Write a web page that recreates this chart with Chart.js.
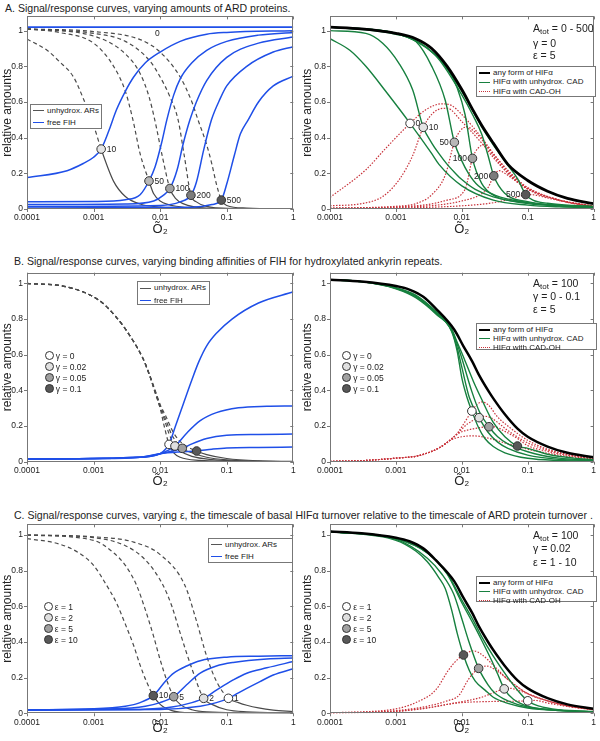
<!DOCTYPE html>
<html>
<head>
<meta charset="utf-8">
<script src="https://cdn.jsdelivr.net/npm/chart.js@4.4.0/dist/chart.umd.min.js"></script>
<style>
  body { margin: 0; background: #fff; font-family: "Liberation Sans", Arial, sans-serif; color: #222; }
  #page { position: relative; width: 600px; height: 741px; overflow: hidden; }
  canvas { position: absolute; }
  .title { position: absolute; font-size: 10.55px; line-height: 12px; white-space: nowrap; }
  .note { position: absolute; font-size: 10.5px; line-height: 12px; white-space: nowrap; }
  .note sub { font-size: 8px; vertical-align: -2px; line-height: 0; }
  .legend { position: absolute; border: 1px solid #777; background: #fff; box-sizing: border-box; }
  .legend .row { position: absolute; left: 2px; font-size: 8px; line-height: 10px; white-space: nowrap; transform: translateY(-50%); }
  .legend .ln { display: inline-block; width: 11px; margin-right: 3px; vertical-align: middle; }
  .mk { position: absolute; font-size: 8.5px; line-height: 10px; white-space: nowrap; transform: translateY(-50%); }
  .mk i { display: inline-block; width: 7px; height: 7px; border: 1px solid #333; border-radius: 50%; margin-right: 2px; vertical-align: -1px; }
  .lbl { position: absolute; font-size: 8.5px; line-height: 10px; transform: translateY(-50%); }
</style>
</head>
<body>
<div id="page">
  <div class="title" style="left:5px;top:1.5px">A. Signal/response curves, varying amounts of ARD proteins.</div>
  <div class="title" style="left:14px;top:254.7px">B. Signal/response curves, varying binding affinities of FIH for hydroxylated ankyrin repeats.</div>
  <div class="title" style="left:14px;top:509px">C. Signal/response curves, varying &epsilon;, the timescale of basal HIF&alpha; turnover relative to the timescale of ARD protein turnover .</div>

  <canvas id="aLeft" width="300" height="240" style="left:0;top:0"></canvas>
  <canvas id="aRight" width="300" height="240" style="left:300px;top:0"></canvas>
  <canvas id="bLeft" width="300" height="242" style="left:0;top:250px"></canvas>
  <canvas id="bRight" width="300" height="242" style="left:300px;top:250px"></canvas>
  <canvas id="cLeft" width="300" height="241" style="left:0;top:500px"></canvas>
  <canvas id="cRight" width="300" height="241" style="left:300px;top:500px"></canvas>

  <!-- legends -->
  <div class="legend" style="left:30px;top:104px;width:72px;height:25px">
    <div class="row" style="top:6px"><span class="ln" style="border-top:1.3px solid #555"></span>unhydrox. ARs</div>
    <div class="row" style="top:18px"><span class="ln" style="border-top:1.5px solid #1f4fe8"></span>free FIH</div>
  </div>
  <div class="legend" style="left:476px;top:66px;width:120px;height:31px">
    <div class="row" style="top:5.7px"><span class="ln" style="border-top:2.5px solid #000"></span>any form of HIF&alpha;</div>
    <div class="row" style="top:15.3px"><span class="ln" style="border-top:1.5px solid #17803f"></span>HIF&alpha; with unhydrox. CAD</div>
    <div class="row" style="top:24.7px"><span class="ln" style="border-top:1.5px dotted #c8323a"></span>HIF&alpha; with CAD-OH</div>
  </div>
  <div class="legend" style="left:137px;top:281px;width:73px;height:24px">
    <div class="row" style="top:6.3px"><span class="ln" style="border-top:1.3px solid #555"></span>unhydrox. ARs</div>
    <div class="row" style="top:18.5px"><span class="ln" style="border-top:1.5px solid #1f4fe8"></span>free FIH</div>
  </div>
  <div class="legend" style="left:476px;top:323px;width:121px;height:27px">
    <div class="row" style="top:5.7px"><span class="ln" style="border-top:2.5px solid #000"></span>any form of HIF&alpha;</div>
    <div class="row" style="top:15px"><span class="ln" style="border-top:1.5px solid #17803f"></span>HIF&alpha; with unhydrox. CAD</div>
    <div class="row" style="top:23.7px"><span class="ln" style="border-top:1.5px dotted #c8323a"></span>HIF&alpha; with CAD-OH</div>
  </div>
  <div class="legend" style="left:208px;top:538px;width:85px;height:25px">
    <div class="row" style="top:5.8px"><span class="ln" style="border-top:1.3px solid #555"></span>unhydrox. ARs</div>
    <div class="row" style="top:18px"><span class="ln" style="border-top:1.5px solid #1f4fe8"></span>free FIH</div>
  </div>
  <div class="legend" style="left:476px;top:576px;width:121px;height:26px">
    <div class="row" style="top:5.7px"><span class="ln" style="border-top:2.5px solid #000"></span>any form of HIF&alpha;</div>
    <div class="row" style="top:15px"><span class="ln" style="border-top:1.5px solid #17803f"></span>HIF&alpha; with unhydrox. CAD</div>
    <div class="row" style="top:23.5px"><span class="ln" style="border-top:1.5px dotted #c8323a"></span>HIF&alpha; with CAD-OH</div>
  </div>

  <!-- parameter notes -->
  <div class="note" style="left:533px;top:22px">A<sub>tot</sub> = 0 - 500</div>
  <div class="note" style="left:533px;top:36.5px">&gamma; = 0</div>
  <div class="note" style="left:533px;top:49px">&epsilon; = 5</div>
  <div class="note" style="left:533px;top:276.5px">A<sub>tot</sub> = 100</div>
  <div class="note" style="left:533px;top:290px">&gamma; = 0 - 0.1</div>
  <div class="note" style="left:533px;top:303.3px">&epsilon; = 5</div>
  <div class="note" style="left:533px;top:529px">A<sub>tot</sub> = 100</div>
  <div class="note" style="left:533px;top:542.3px">&gamma; = 0.02</div>
  <div class="note" style="left:533px;top:555.7px">&epsilon; = 1 - 10</div>

  <div class="lbl" style="left:155px;top:32.5px">0</div>

  <div id="markLegends"></div>
</div>

<script>
// ---- axes ----
const xTicks = [0.0001, 0.001, 0.01, 0.1, 1];
const xTickLabels = ['0.0001', '0.001', '0.01', '0.1', '1'];
const yTicks = [0, 0.2, 0.4, 0.6, 0.8, 1];
const yTickLabels = ['0', '0.2', '0.4', '0.6', '0.8', '1'];

// ---- A, left: free FIH (blue) and unhydroxylated ARs (grey), Atot = 0..500 ----
const aFih0 = [[1e-4, 1.02], [1, 1.02]];
const aFih10 = [[1e-4, 0.176], [4e-4, 0.215], [7e-4, 0.255], [1e-3, 0.29], [0.0013, 0.336], [0.0017, 0.44], [0.0022, 0.555], [0.003, 0.66], [0.004, 0.74], [0.006, 0.82], [0.01, 0.88], [0.02, 0.94], [0.05, 0.98], [0.1, 0.99], [1, 1.0]];
const aFih50 = [[1e-4, 0.04], [1e-3, 0.042], [0.003, 0.052], [0.005, 0.08], [0.0068, 0.157], [0.0084, 0.237], [0.0105, 0.37], [0.0126, 0.5], [0.016, 0.64], [0.02, 0.73], [0.03, 0.82], [0.05, 0.89], [0.1, 0.94], [0.3, 0.975], [1, 0.99]];
const aFih100 = [[1e-4, 0.025], [0.003, 0.028], [0.008, 0.045], [0.011, 0.075], [0.014, 0.115], [0.018, 0.22], [0.022, 0.36], [0.028, 0.5], [0.035, 0.6], [0.05, 0.72], [0.1, 0.85], [0.3, 0.93], [1, 0.965]];
const aFih200 = [[1e-4, 0.014], [0.01, 0.02], [0.02, 0.04], [0.029, 0.077], [0.035, 0.15], [0.045, 0.33], [0.059, 0.5], [0.08, 0.62], [0.1, 0.69], [0.2, 0.8], [0.5, 0.88], [1, 0.91]];
const aFih500 = [[1e-4, 0.006], [0.03, 0.01], [0.06, 0.025], [0.083, 0.05], [0.1, 0.14], [0.13, 0.3], [0.16, 0.42], [0.21, 0.5], [0.3, 0.6], [0.5, 0.69], [1, 0.745]];

const aArd10 = [[1e-4, 0.953], [2e-4, 0.89], [3e-4, 0.83], [5e-4, 0.74], [7e-4, 0.62], [1e-3, 0.47], [0.0013, 0.336], [0.002, 0.155], [0.003, 0.07], [0.005, 0.028], [0.01, 0.01], [0.03, 0.003], [1, 0]];
const aArd50 = [[1e-4, 1.01], [3e-4, 0.99], [1e-3, 0.93], [0.002, 0.8], [0.003, 0.66], [0.0039, 0.5], [0.005, 0.31], [0.0068, 0.157], [0.008, 0.085], [0.01, 0.045], [0.02, 0.012], [0.05, 0.002], [1, 0]];
const aArd100 = [[1e-4, 1.01], [1e-3, 0.97], [0.003, 0.87], [0.005, 0.76], [0.0068, 0.63], [0.0083, 0.5], [0.011, 0.28], [0.014, 0.115], [0.017, 0.06], [0.022, 0.03], [0.05, 0.005], [1, 0]];
const aArd200 = [[1e-4, 1.01], [1e-3, 0.985], [0.003, 0.94], [0.007, 0.83], [0.01, 0.74], [0.014, 0.63], [0.0186, 0.5], [0.023, 0.3], [0.029, 0.077], [0.035, 0.04], [0.05, 0.015], [0.1, 0.003], [1, 0]];
const aArd500 = [[1e-4, 1.01], [1e-3, 0.995], [0.005, 0.95], [0.01, 0.88], [0.02, 0.74], [0.03, 0.6], [0.037, 0.5], [0.05, 0.36], [0.06, 0.25], [0.07, 0.14], [0.083, 0.05], [0.1, 0.02], [0.2, 0.005], [1, 0]];

const aMarkX = [0.0013, 0.0068, 0.014, 0.029, 0.083];
const aMarkY = [0.336, 0.157, 0.115, 0.077, 0.05];
const aMarkText = ['10', '50', '100', '200', '500'];

// ---- A, right: HIFa forms ----
const aTotal = [[1e-4, 1.02], [3e-4, 1.01], [1e-3, 0.985], [0.002, 0.955], [0.0035, 0.9], [0.006, 0.8], [0.01, 0.67], [0.015, 0.55], [0.02, 0.47], [0.03, 0.37], [0.05, 0.25], [0.1, 0.16], [0.2, 0.1], [0.4, 0.06], [1, 0.03]];
const aCad0 = [[1e-4, 0.955], [2e-4, 0.89], [3.5e-4, 0.8], [7e-4, 0.66], [0.00164, 0.48], [0.0035, 0.31], [0.0045, 0.25], [0.01, 0.13], [0.03, 0.05], [0.1, 0.022], [0.3, 0.012], [1, 0.008]];
const aCad10 = [[1e-4, 1.0], [3.5e-4, 0.985], [6.3e-4, 0.93], [0.0011, 0.82], [0.0018, 0.667], [0.0026, 0.458], [0.0035, 0.37], [0.0045, 0.31], [0.006, 0.25], [0.008, 0.2], [0.01, 0.165], [0.016, 0.11], [0.03, 0.068], [0.1, 0.03], [0.3, 0.016], [1, 0.011]];
const aCad50 = [[1e-4, 1.02], [1e-3, 0.98], [0.002, 0.94], [0.0035, 0.8], [0.0056, 0.61], [0.0077, 0.374], [0.01, 0.27], [0.0126, 0.2], [0.0178, 0.13], [0.0316, 0.078], [0.1, 0.036], [0.3, 0.02], [1, 0.013]];
const aCad100 = [[1e-4, 1.02], [1e-3, 0.985], [0.003, 0.9], [0.0063, 0.78], [0.0085, 0.68], [0.0112, 0.53], [0.0145, 0.284], [0.02, 0.144], [0.0316, 0.073], [0.1, 0.036], [0.3, 0.02], [1, 0.013]];
const aCad200 = [[1e-4, 1.02], [1e-3, 0.985], [0.004, 0.86], [0.01, 0.64], [0.015, 0.52], [0.02, 0.42], [0.025, 0.3], [0.0305, 0.186], [0.0447, 0.088], [0.1, 0.041], [0.3, 0.02], [1, 0.013]];
const aCad500 = [[1e-4, 1.02], [1e-3, 0.985], [0.004, 0.865], [0.01, 0.66], [0.02, 0.46], [0.03, 0.36], [0.05, 0.245], [0.07, 0.17], [0.093, 0.081], [0.12, 0.05], [0.2, 0.032], [0.5, 0.02], [1, 0.015]];
const aOh0 = [[1e-4, 0.065], [3.5e-4, 0.22], [7e-4, 0.34], [0.00164, 0.48], [0.0028, 0.555], [0.005, 0.59], [0.007, 0.58], [0.01, 0.53], [0.02, 0.4], [0.035, 0.28], [0.07, 0.165], [0.1, 0.12], [0.3, 0.05], [1, 0.017]];
const aOh10 = [[1e-4, 0.018], [3e-4, 0.03], [6.3e-4, 0.07], [0.0011, 0.16], [0.0018, 0.3], [0.0026, 0.458], [0.004, 0.55], [0.006, 0.565], [0.01, 0.49], [0.02, 0.37], [0.035, 0.26], [0.07, 0.155], [0.1, 0.113], [0.3, 0.05], [1, 0.015]];
const aOh50 = [[1e-4, 0.005], [1e-3, 0.015], [0.002, 0.03], [0.0035, 0.08], [0.0056, 0.19], [0.0077, 0.374], [0.0095, 0.44], [0.012, 0.46], [0.016, 0.43], [0.02, 0.39], [0.03, 0.3], [0.05, 0.2], [0.1, 0.11], [0.3, 0.05], [1, 0.015]];
const aOh100 = [[1e-4, 0.004], [1e-3, 0.012], [0.003, 0.025], [0.006, 0.05], [0.0112, 0.11], [0.0145, 0.284], [0.018, 0.345], [0.022, 0.36], [0.03, 0.31], [0.05, 0.21], [0.1, 0.115], [0.3, 0.05], [1, 0.015]];
const aOh200 = [[1e-4, 0.003], [1e-3, 0.008], [0.005, 0.025], [0.01, 0.045], [0.02, 0.085], [0.025, 0.12], [0.0305, 0.186], [0.037, 0.215], [0.045, 0.2], [0.07, 0.15], [0.1, 0.115], [0.3, 0.05], [1, 0.015]];
const aOh500 = [[1e-4, 0.002], [1e-3, 0.005], [0.01, 0.018], [0.03, 0.035], [0.06, 0.06], [0.08, 0.075], [0.093, 0.081], [0.12, 0.08], [0.2, 0.062], [0.5, 0.03], [1, 0.013]];

const aRMarkX = [0.00164, 0.0026, 0.0077, 0.0145, 0.0305, 0.093];
const aRMarkY = [0.48, 0.458, 0.374, 0.284, 0.186, 0.081];
const aRMarkText = ['0', '10', '50', '100', '200', '500'];

// ---- B, left: gamma = 0, 0.02, 0.05, 0.1 ----
const bArd0 = [[1e-4, 1.0], [4e-4, 0.98], [0.0012, 0.906], [0.0022, 0.81], [0.0039, 0.68], [0.0055, 0.58], [0.007, 0.48], [0.0085, 0.38], [0.01, 0.3], [0.0115, 0.2], [0.0136, 0.097], [0.016, 0.05], [0.02, 0.025], [0.04, 0.007], [0.1, 0.002], [1, 0]];
const bArd002 = [[1e-4, 1.0], [4e-4, 0.98], [0.0012, 0.906], [0.0022, 0.81], [0.0039, 0.68], [0.0055, 0.58], [0.007, 0.48], [0.0085, 0.385], [0.01, 0.305], [0.0115, 0.24], [0.0135, 0.16], [0.0167, 0.088], [0.02, 0.06], [0.03, 0.03], [0.06, 0.012], [0.2, 0.003], [1, 0]];
const bArd005 = [[1e-4, 1.0], [4e-4, 0.98], [0.0012, 0.906], [0.0022, 0.81], [0.0039, 0.68], [0.0055, 0.58], [0.007, 0.48], [0.0085, 0.39], [0.01, 0.315], [0.012, 0.24], [0.015, 0.15], [0.0215, 0.075], [0.03, 0.05], [0.05, 0.025], [0.1, 0.01], [0.3, 0.003], [1, 0]];
const bArd01 = [[1e-4, 1.0], [4e-4, 0.98], [0.0012, 0.906], [0.0022, 0.81], [0.0039, 0.68], [0.0055, 0.58], [0.007, 0.485], [0.0085, 0.395], [0.01, 0.32], [0.012, 0.26], [0.016, 0.16], [0.022, 0.1], [0.0353, 0.06], [0.05, 0.04], [0.1, 0.018], [0.3, 0.005], [1, 0.002]];
const bFih0 = [[1e-4, 0.015], [1e-3, 0.017], [0.005, 0.025], [0.01, 0.045], [0.012, 0.07], [0.0136, 0.097], [0.017, 0.2], [0.0224, 0.327], [0.03, 0.46], [0.038, 0.56], [0.05, 0.65], [0.07, 0.72], [0.12, 0.8], [0.3, 0.89], [1, 0.953]];
const bFih002 = [[1e-4, 0.015], [0.005, 0.025], [0.01, 0.045], [0.0167, 0.088], [0.025, 0.16], [0.04, 0.23], [0.07, 0.275], [0.15, 0.302], [0.4, 0.311], [1, 0.313]];
const bFih005 = [[1e-4, 0.015], [0.005, 0.025], [0.01, 0.045], [0.0215, 0.075], [0.03, 0.1], [0.05, 0.13], [0.1, 0.148], [0.3, 0.153], [1, 0.155]];
const bFih01 = [[1e-4, 0.015], [0.005, 0.025], [0.01, 0.045], [0.02, 0.055], [0.0353, 0.06], [0.06, 0.07], [0.1, 0.077], [0.3, 0.08], [1, 0.082]];
const bMarkX = [0.0136, 0.0167, 0.0215, 0.0353];
const bMarkY = [0.097, 0.088, 0.075, 0.06];

// ---- B, right ----
const bcTotal = [[1e-4, 1.02], [3e-4, 1.01], [1e-3, 0.985], [0.0016, 0.965], [0.0026, 0.925], [0.004, 0.86], [0.0077, 0.74], [0.0105, 0.65], [0.0145, 0.56], [0.018, 0.49], [0.026, 0.39], [0.03, 0.355], [0.044, 0.27], [0.07, 0.185], [0.1, 0.14], [0.2, 0.085], [0.4, 0.05], [1, 0.025]];
const bCad0 = [[1e-4, 1.02], [3e-4, 1.01], [1e-3, 0.97], [0.002, 0.92], [0.004, 0.83], [0.007, 0.73], [0.0085, 0.62], [0.01, 0.47], [0.012, 0.36], [0.0142, 0.284], [0.018, 0.19], [0.0224, 0.13], [0.03, 0.085], [0.045, 0.05], [0.1, 0.019], [0.3, 0.007], [1, 0.004]];
const bCad002 = [[1e-4, 1.02], [3e-4, 1.01], [1e-3, 0.972], [0.002, 0.925], [0.004, 0.835], [0.007, 0.735], [0.0085, 0.64], [0.01, 0.53], [0.013, 0.36], [0.0183, 0.247], [0.025, 0.165], [0.035, 0.11], [0.05, 0.075], [0.1, 0.037], [0.3, 0.013], [1, 0.006]];
const bCad005 = [[1e-4, 1.02], [3e-4, 1.01], [1e-3, 0.974], [0.002, 0.93], [0.004, 0.84], [0.007, 0.74], [0.0085, 0.66], [0.01, 0.58], [0.014, 0.4], [0.0185, 0.28], [0.0258, 0.196], [0.035, 0.14], [0.05, 0.1], [0.1, 0.056], [0.3, 0.02], [1, 0.009]];
const bCad01 = [[1e-4, 1.02], [3e-4, 1.01], [1e-3, 0.976], [0.002, 0.935], [0.004, 0.845], [0.007, 0.745], [0.0085, 0.67], [0.01, 0.61], [0.015, 0.45], [0.02, 0.35], [0.03, 0.22], [0.045, 0.14], [0.0697, 0.088], [0.1, 0.075], [0.2, 0.042], [0.5, 0.02], [1, 0.011]];
const bOh0 = [[1e-4, 0.002], [3e-4, 0.006], [1e-3, 0.02], [0.0022, 0.034], [0.0044, 0.075], [0.0071, 0.13], [0.009, 0.17], [0.011, 0.22], [0.0142, 0.284], [0.017, 0.32], [0.02, 0.335], [0.025, 0.32], [0.035, 0.25], [0.05, 0.2], [0.1, 0.12], [0.2, 0.07], [0.4, 0.042], [1, 0.02]];
const bOh002 = [[1e-4, 0.002], [3e-4, 0.006], [1e-3, 0.02], [0.0022, 0.034], [0.0044, 0.075], [0.0071, 0.13], [0.009, 0.165], [0.012, 0.21], [0.0183, 0.247], [0.022, 0.255], [0.028, 0.245], [0.035, 0.22], [0.05, 0.175], [0.1, 0.105], [0.2, 0.065], [0.4, 0.04], [1, 0.019]];
const bOh005 = [[1e-4, 0.002], [3e-4, 0.006], [1e-3, 0.02], [0.0022, 0.034], [0.0044, 0.075], [0.0071, 0.13], [0.009, 0.16], [0.013, 0.18], [0.018, 0.19], [0.0258, 0.196], [0.032, 0.195], [0.045, 0.17], [0.07, 0.13], [0.1, 0.09], [0.2, 0.058], [0.4, 0.036], [1, 0.017]];
const bOh01 = [[1e-4, 0.002], [3e-4, 0.006], [1e-3, 0.02], [0.0022, 0.034], [0.0044, 0.075], [0.0071, 0.125], [0.01, 0.14], [0.015, 0.145], [0.02, 0.14], [0.03, 0.125], [0.045, 0.105], [0.0697, 0.088], [0.1, 0.07], [0.2, 0.048], [0.4, 0.03], [1, 0.015]];
const bRMarkX = [0.0142, 0.0183, 0.0258, 0.0697];
const bRMarkY = [0.284, 0.247, 0.196, 0.088];

// ---- C, left: epsilon = 1, 2, 5, 10 ----
const cArd10 = [[1e-4, 0.98], [3e-4, 0.95], [6e-4, 0.9], [1e-3, 0.83], [0.0015, 0.73], [0.0022, 0.62], [0.003, 0.5], [0.004, 0.38], [0.005, 0.27], [0.0062, 0.18], [0.0079, 0.099], [0.01, 0.05], [0.015, 0.015], [0.03, 0.003], [1, 0]];
const cArd5 = [[1e-4, 1.0], [1e-3, 0.97], [0.002, 0.9], [0.003, 0.83], [0.0044, 0.72], [0.006, 0.58], [0.008, 0.43], [0.01, 0.3], [0.013, 0.17], [0.016, 0.093], [0.02, 0.05], [0.03, 0.02], [0.05, 0.008], [1, 0]];
const cArd2 = [[1e-4, 1.0], [1e-3, 0.985], [0.003, 0.94], [0.006, 0.86], [0.011, 0.72], [0.015, 0.6], [0.02, 0.45], [0.03, 0.25], [0.045, 0.084], [0.06, 0.05], [0.1, 0.02], [0.2, 0.008], [1, 0.002]];
const cArd1 = [[1e-4, 1.0], [1e-3, 0.99], [0.004, 0.96], [0.01, 0.89], [0.0234, 0.72], [0.035, 0.52], [0.05, 0.32], [0.07, 0.18], [0.106, 0.084], [0.15, 0.06], [0.2, 0.045], [0.3, 0.03], [0.5, 0.018], [1, 0.01]];
const cFih10 = [[1e-4, 0.019], [1e-3, 0.025], [0.003, 0.04], [0.005, 0.06], [0.0079, 0.099], [0.012, 0.18], [0.016, 0.225], [0.025, 0.265], [0.04, 0.295], [0.1, 0.315], [0.3, 0.32], [1, 0.323]];
const cFih5 = [[1e-4, 0.019], [0.002, 0.025], [0.006, 0.04], [0.01, 0.06], [0.016, 0.093], [0.025, 0.16], [0.04, 0.225], [0.07, 0.265], [0.125, 0.285], [0.4, 0.305], [1, 0.31]];
const cFih2 = [[1e-4, 0.019], [0.005, 0.022], [0.015, 0.035], [0.03, 0.06], [0.045, 0.084], [0.07, 0.13], [0.125, 0.187], [0.2, 0.225], [0.4, 0.255], [1, 0.29]];
const cFih1 = [[1e-4, 0.019], [0.01, 0.022], [0.04, 0.04], [0.07, 0.06], [0.106, 0.084], [0.15, 0.115], [0.2, 0.14], [0.316, 0.178], [0.5, 0.215], [1, 0.25]];
const cMarkX = [0.106, 0.045, 0.016, 0.0079];
const cMarkY = [0.084, 0.084, 0.093, 0.099];
const cMarkText = ['1', '2', '5', '10'];

// ---- C, right ----
const cCad10 = [[1e-4, 1.02], [1e-3, 0.97], [0.002, 0.91], [0.003, 0.85], [0.0045, 0.76], [0.0056, 0.7], [0.007, 0.58], [0.0085, 0.45], [0.0106, 0.327], [0.013, 0.24], [0.016, 0.18], [0.0225, 0.13], [0.03, 0.09], [0.05, 0.056], [0.1, 0.03], [0.36, 0.015], [1, 0.008]];
const cCad5 = [[1e-4, 1.02], [1e-3, 0.975], [0.003, 0.87], [0.005, 0.78], [0.0075, 0.67], [0.01, 0.53], [0.0126, 0.41], [0.018, 0.252], [0.025, 0.16], [0.032, 0.112], [0.05, 0.07], [0.1, 0.035], [0.3, 0.015], [1, 0.008]];
const cCad2 = [[1e-4, 1.02], [1e-3, 0.98], [0.003, 0.9], [0.006, 0.78], [0.01, 0.62], [0.015, 0.5], [0.02, 0.41], [0.028, 0.3], [0.035, 0.22], [0.044, 0.137], [0.06, 0.08], [0.1, 0.04], [0.3, 0.016], [1, 0.009]];
const cCad1 = [[1e-4, 1.02], [1e-3, 0.98], [0.003, 0.9], [0.006, 0.785], [0.01, 0.635], [0.015, 0.52], [0.02, 0.43], [0.03, 0.32], [0.05, 0.2], [0.07, 0.13], [0.1, 0.07], [0.15, 0.04], [0.3, 0.02], [1, 0.01]];
const cOh10 = [[1e-4, 0.003], [5e-4, 0.012], [0.0011, 0.028], [0.002, 0.06], [0.004, 0.13], [0.0063, 0.243], [0.0085, 0.3], [0.0106, 0.327], [0.015, 0.35], [0.02, 0.33], [0.03, 0.27], [0.05, 0.19], [0.1, 0.11], [0.2, 0.07], [0.4, 0.042], [1, 0.02]];
const cOh5 = [[1e-4, 0.002], [1e-3, 0.015], [0.003, 0.04], [0.006, 0.07], [0.009, 0.1], [0.0126, 0.19], [0.018, 0.252], [0.024, 0.265], [0.032, 0.245], [0.05, 0.19], [0.1, 0.11], [0.2, 0.07], [0.4, 0.042], [1, 0.02]];
const cOh2 = [[1e-4, 0.001], [1e-3, 0.012], [0.003, 0.03], [0.006, 0.05], [0.01, 0.065], [0.02, 0.09], [0.03, 0.115], [0.044, 0.137], [0.055, 0.14], [0.07, 0.13], [0.1, 0.11], [0.2, 0.07], [0.4, 0.042], [1, 0.02]];
const cOh1 = [[1e-4, 0.001], [1e-3, 0.01], [0.003, 0.03], [0.006, 0.05], [0.01, 0.06], [0.02, 0.065], [0.04, 0.067], [0.07, 0.068], [0.1, 0.07], [0.13, 0.072], [0.2, 0.058], [0.4, 0.038], [1, 0.02]];
const cRMarkX = [0.1, 0.044, 0.018, 0.0106];
const cRMarkY = [0.07, 0.137, 0.252, 0.327];

// marker fills (white -> dark grey)
const aFills = ['#e4e4e4', '#b8b8b8', '#a2a2a2', '#7c7c7c', '#585858'];
const aRFills = ['#ffffff', '#e4e4e4', '#b8b8b8', '#a2a2a2', '#7c7c7c', '#585858'];
const gammaFills = ['#ffffff', '#e0e0e0', '#a0a0a0', '#585858'];
const epsFills = ['#ffffff', '#e0e0e0', '#a0a0a0', '#585858'];
const gammaText = ['\u03b3 = 0', '\u03b3 = 0.02', '\u03b3 = 0.05', '\u03b3 = 0.1'];
const epsText = ['\u03b5 = 1', '\u03b5 = 2', '\u03b5 = 5', '\u03b5 = 10'];

const BLUE = '#1f4fe8';
const GREEN = '#17803f';
const RED = '#c8323a';
const GREY = '#4a4a4a';
const FONT = '"Liberation Sans", Arial, sans-serif';

Chart.defaults.font.family = FONT;
Chart.defaults.color = '#222';

function pts(arr) {
    return arr.map(p => ({ x: p[0], y: p[1] }));
}

function curve(arr, color, width, dash, order) {
    return {
        data: pts(arr),
        borderColor: color,
        borderWidth: width,
        borderDash: dash || [],
        pointRadius: 0,
        cubicInterpolationMode: 'monotone',
        fill: false,
        order: order
    };
}

// grey AR curves: dashed down to the marker, solid after it
function ardCurve(arr, cut) {
    const ds = curve(arr, GREY, 1.2, [], 3);
    ds.segment = {
        borderDash: c => (c.p1.parsed.x <= cut * 1.0001 ? [4, 3] : [])
    };
    return ds;
}

function markers(xs, ys, fills, texts, sides) {
    return {
        data: xs.map((x, i) => ({ x: x, y: ys[i] })),
        showLine: false,
        pointRadius: 4.3,
        pointBackgroundColor: fills,
        pointBorderColor: '#333',
        pointBorderWidth: 1,
        order: -1,
        markText: texts,
        markSide: sides
    };
}

// box around the plot with small ticks
const framePlugin = {
    id: 'frame',
    afterDraw(chart) {
        const { ctx, chartArea: a, scales } = chart;
        ctx.save();
        ctx.strokeStyle = '#777';
        ctx.lineWidth = 1;
        ctx.strokeRect(Math.round(a.left) + 0.5, Math.round(a.top) + 0.5,
            Math.round(a.right - a.left) - 1, Math.round(a.bottom - a.top) - 1);
        ctx.beginPath();
        xTicks.forEach(v => {
            const px = Math.round(scales.x.getPixelForValue(v)) + 0.5;
            ctx.moveTo(px, a.bottom); ctx.lineTo(px, a.bottom + 3);
            ctx.moveTo(px, a.top); ctx.lineTo(px, a.top + 3);
        });
        yTicks.forEach(v => {
            const py = Math.round(scales.y.getPixelForValue(v)) + 0.5;
            ctx.moveTo(a.left - 3, py); ctx.lineTo(a.left, py);
            ctx.moveTo(a.right, py); ctx.lineTo(a.right - 3, py);
        });
        ctx.stroke();
        ctx.restore();
    }
};

// numbers next to the markers
const markTextPlugin = {
    id: 'markText',
    afterDatasetsDraw(chart) {
        const ctx = chart.ctx;
        chart.data.datasets.forEach((ds, i) => {
            if (!ds.markText) return;
            const meta = chart.getDatasetMeta(i);
            ctx.save();
            ctx.font = '8.5px ' + FONT;
            ctx.fillStyle = '#222';
            ctx.textBaseline = 'middle';
            meta.data.forEach((pt, j) => {
                const side = ds.markSide ? ds.markSide[j] : 'r';
                ctx.textAlign = side === 'r' ? 'left' : 'right';
                ctx.fillText(ds.markText[j], pt.x + (side === 'r' ? 5.5 : -5.5), pt.y + 0.5);
            });
            ctx.restore();
        });
    }
};

function makeChart(id, box, datasets) {
    return new Chart(document.getElementById(id), {
        type: 'line',
        data: { datasets: datasets },
        plugins: [framePlugin, markTextPlugin],
        options: {
            responsive: false,
            animation: false,
            events: [],
            layout: { padding: { top: box.padTop, right: box.padRight, left: 0, bottom: 0 } },
            plugins: { legend: { display: false }, tooltip: { enabled: false } },
            scales: {
                x: {
                    type: 'logarithmic',
                    min: 0.0001,
                    max: 1,
                    afterBuildTicks: s => { s.ticks = xTicks.map(v => ({ value: v })); },
                    afterFit: s => { s.height = box.xAxisH; },
                    ticks: {
                        autoSkip: false, maxRotation: 0, padding: 4,
                        font: { size: 8.5 }, color: '#222',
                        callback: (v, i) => xTickLabels[i]
                    },
                    grid: { display: false, drawTicks: false },
                    border: { display: false },
                    title: { display: true, text: '\u00d5\u2082', font: { size: 13 }, color: '#222', padding: { top: 0, bottom: box.titlePad } }
                },
                y: {
                    min: 0,
                    max: box.ymax,
                    afterBuildTicks: s => { s.ticks = yTicks.map(v => ({ value: v })); },
                    afterFit: s => { s.width = box.yAxisW; },
                    ticks: {
                        padding: 4, font: { size: 8.5 }, color: '#222',
                        callback: (v, i) => yTickLabels[i]
                    },
                    grid: { display: false, drawTicks: false },
                    border: { display: false },
                    title: { display: true, text: 'relative amounts', font: { size: 12 }, color: '#222', padding: 0 }
                }
            }
        }
    });
}

const leftBoxA = { padTop: 16.4, padRight: 6.7, xAxisH: 31, yAxisW: 27, ymax: 1.08, titlePad: 2.7 };
const rightBoxA = { padTop: 16.4, padRight: 3.5, xAxisH: 31, yAxisW: 30, ymax: 1.08, titlePad: 2.7 };
const leftBoxB = { padTop: 22.7, padRight: 6.7, xAxisH: 30.3, yAxisW: 27, ymax: 1.06, titlePad: 3.2 };
const rightBoxB = { padTop: 22.7, padRight: 3.5, xAxisH: 30.3, yAxisW: 30, ymax: 1.06, titlePad: 3.2 };
const leftBoxC = { padTop: 24.3, padRight: 6.7, xAxisH: 27.7, yAxisW: 27, ymax: 1.06, titlePad: 5.2 };
const rightBoxC = { padTop: 24.3, padRight: 3.5, xAxisH: 27.7, yAxisW: 30, ymax: 1.06, titlePad: 5.2 };

// A
makeChart('aLeft', leftBoxA, [
    markers(aMarkX, aMarkY, aFills, aMarkText, ['r', 'r', 'r', 'r', 'r']),
    curve(aFih0, BLUE, 1.6, null, 1),
    curve(aFih10, BLUE, 1.5, null, 1),
    curve(aFih50, BLUE, 1.5, null, 1),
    curve(aFih100, BLUE, 1.5, null, 1),
    curve(aFih200, BLUE, 1.5, null, 1),
    curve(aFih500, BLUE, 1.5, null, 1),
    ardCurve(aArd10, aMarkX[0]),
    ardCurve(aArd50, aMarkX[1]),
    ardCurve(aArd100, aMarkX[2]),
    ardCurve(aArd200, aMarkX[3]),
    ardCurve(aArd500, aMarkX[4])
]);

makeChart('aRight', rightBoxA, [
    markers(aRMarkX, aRMarkY, aRFills, aRMarkText, ['r', 'r', 'l', 'l', 'l', 'l']),
    curve(aTotal, '#000', 2.8, null, 0),
    curve(aCad0, GREEN, 1.4, null, 1),
    curve(aCad10, GREEN, 1.4, null, 1),
    curve(aCad50, GREEN, 1.4, null, 1),
    curve(aCad100, GREEN, 1.4, null, 1),
    curve(aCad200, GREEN, 1.4, null, 1),
    curve(aCad500, GREEN, 1.4, null, 1),
    curve(aOh0, RED, 1.2, [1.5, 1.5], 2),
    curve(aOh10, RED, 1.2, [1.5, 1.5], 2),
    curve(aOh50, RED, 1.2, [1.5, 1.5], 2),
    curve(aOh100, RED, 1.2, [1.5, 1.5], 2),
    curve(aOh200, RED, 1.2, [1.5, 1.5], 2),
    curve(aOh500, RED, 1.2, [1.5, 1.5], 2)
]);

// B
makeChart('bLeft', leftBoxB, [
    markers(bMarkX, bMarkY, gammaFills, null, null),
    curve(bFih0, BLUE, 1.5, null, 1),
    curve(bFih002, BLUE, 1.5, null, 1),
    curve(bFih005, BLUE, 1.5, null, 1),
    curve(bFih01, BLUE, 1.5, null, 1),
    ardCurve(bArd0, bMarkX[0]),
    ardCurve(bArd002, bMarkX[1]),
    ardCurve(bArd005, bMarkX[2]),
    ardCurve(bArd01, bMarkX[3])
]);

makeChart('bRight', rightBoxB, [
    markers(bRMarkX, bRMarkY, gammaFills, null, null),
    curve(bcTotal, '#000', 2.5, null, 0),
    curve(bCad0, GREEN, 1.4, null, 1),
    curve(bCad002, GREEN, 1.4, null, 1),
    curve(bCad005, GREEN, 1.4, null, 1),
    curve(bCad01, GREEN, 1.4, null, 1),
    curve(bOh0, RED, 1.2, [1.5, 1.5], 2),
    curve(bOh002, RED, 1.2, [1.5, 1.5], 2),
    curve(bOh005, RED, 1.2, [1.5, 1.5], 2),
    curve(bOh01, RED, 1.2, [1.5, 1.5], 2)
]);

// C
makeChart('cLeft', leftBoxC, [
    markers(cMarkX, cMarkY, epsFills, cMarkText, ['r', 'r', 'r', 'r']),
    curve(cFih10, BLUE, 1.5, null, 1),
    curve(cFih5, BLUE, 1.5, null, 1),
    curve(cFih2, BLUE, 1.5, null, 1),
    curve(cFih1, BLUE, 1.5, null, 1),
    ardCurve(cArd10, cMarkX[3]),
    ardCurve(cArd5, cMarkX[2]),
    ardCurve(cArd2, cMarkX[1]),
    ardCurve(cArd1, cMarkX[0])
]);

makeChart('cRight', rightBoxC, [
    markers(cRMarkX, cRMarkY, epsFills, null, null),
    curve(bcTotal, '#000', 2.5, null, 0),
    curve(cCad10, GREEN, 1.4, null, 1),
    curve(cCad5, GREEN, 1.4, null, 1),
    curve(cCad2, GREEN, 1.4, null, 1),
    curve(cCad1, GREEN, 1.4, null, 1),
    curve(cOh10, RED, 1.2, [1.5, 1.5], 2),
    curve(cOh5, RED, 1.2, [1.5, 1.5], 2),
    curve(cOh2, RED, 1.2, [1.5, 1.5], 2),
    curve(cOh1, RED, 1.2, [1.5, 1.5], 2)
]);

// marker legends (gamma / epsilon)
const mkHost = document.getElementById('markLegends');
function markLegend(left, rows, fills, texts) {
    rows.forEach((top, i) => {
        const d = document.createElement('div');
        d.className = 'mk';
        d.style.left = left + 'px';
        d.style.top = top + 'px';
        d.innerHTML = '<i style="background:' + fills[i] + '"></i>' + texts[i];
        mkHost.appendChild(d);
    });
}
markLegend(44.8, [355.7, 366.7, 377.7, 389], gammaFills, gammaText);
markLegend(342.2, [355.7, 366.7, 377.7, 389], gammaFills, gammaText);
markLegend(43.8, [606.7, 617.7, 629, 640], epsFills, epsText);
markLegend(342.2, [606.7, 617.7, 629, 640], epsFills, epsText);
</script>
</body>
</html>
